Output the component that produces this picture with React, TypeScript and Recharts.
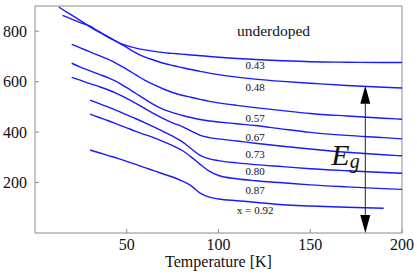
import React from 'react';
import { LineChart, Line, XAxis, YAxis, ReferenceArea, ReferenceLine, ReferenceDot } from 'recharts';

// temperature grid [K]
const temperatures = [13, 15, 20, 25, 30, 35, 40, 45, 50, 55, 60, 65, 70, 75, 80, 85, 90, 95, 100, 110, 120, 135, 150, 170, 190, 200];

// gap energy per doping (null = no data)
const gap043 = [null, 863, 848, 833, 820, 798, 778, 757, 743, 733, 726, 720, 715, 712, 709, 706, 703, 700, 697, 692, 688, 683, 679, 677, 676, 676];
const gap048 = [896, 886, 864, 841, 817, 796, 776, 757, 736, 714, 697, 685, 673, 664, 656, 648, 641, 634, 628, 618, 610, 601, 594, 585, 578, 575];
const gap057 = [null, null, 748, 733, 718, 703, 688, 670, 649, 627, 605, 587, 571, 557, 546, 538, 530, 522, 516, 506, 497, 485, 474, 464, 455, 451];
const gap067 = [null, null, 673, 657, 643, 629, 615, 598, 576, 553, 530, 508, 490, 477, 467, 458, 450, 444, 440, 433, 426, 412, 399, 387, 378, 373];
const gap073 = [null, null, 617, 605, 592, 580, 567, 552, 534, 514, 493, 472, 453, 437, 423, 405, 387, 378, 373, 365, 356, 344, 333, 320, 310, 306];
const gap080 = [null, null, null, null, 527, 513, 499, 484, 468, 453, 437, 420, 402, 384, 363, 335, 308, 294, 287, 278, 271, 263, 255, 247, 240, 237];
const gap087 = [null, null, null, null, 471, 458, 445, 431, 417, 403, 390, 377, 362, 346, 328, 302, 272, 245, 228, 215, 207, 199, 191, 183, 176, 173];
const gap092 = [null, null, null, null, 329, 318, 307, 296, 284, 272, 259, 246, 234, 222, 207, 188, 158, 142, 135, 128, 122, 112, 107, 102, 98, null];

const seriesKeys = ['x043', 'x048', 'x057', 'x067', 'x073', 'x080', 'x087', 'x092'];
const seriesValues = [gap043, gap048, gap057, gap067, gap073, gap080, gap087, gap092];
const curveLabels = ['0.43', '0.48', '0.57', '0.67', '0.73', '0.80', '0.87', 'x = 0.92'];

const xTicks = [50, 100, 150, 200];
const yTicks = [200, 400, 600, 800];

// annotations (data coords)
const labelT = 120;
const labelGap = [649, 564, 441, 365, 296, 230, 155, 75];
const arrowT = 180;
const arrowTop = 584;

const rows = temperatures.map((t, i) => {
  const r: any = { t };
  seriesKeys.forEach((k, j) => { r[k] = seriesValues[j][i]; });
  return r;
});

const SERIF = "'Liberation Serif', 'Times New Roman', Times, serif";
const BLUE = '#1a1aff';
const FRAME = '#8c8c8c';
const txt = (size: number, italic = false): React.CSSProperties => ({
  fontFamily: SERIF,
  fontSize: size,
  fontStyle: italic ? 'italic' : 'normal',
});

const XTick = (props: any) => {
  const { x, y, payload } = props;
  return (
    <g>
      <line x1={x} y1={y} x2={x} y2={y - 4} stroke={FRAME} />
      <text x={x} y={y + 17} textAnchor="middle" style={txt(16)} fill="#111">{payload.value}</text>
    </g>
  );
};

const YTick = (props: any) => {
  const { x, y, payload } = props;
  return (
    <g>
      <line x1={x} y1={y} x2={x + 4} y2={y} stroke={FRAME} />
      <text x={x - 8} y={y + 5.5} textAnchor="end" style={txt(16)} fill="#111">{payload.value}</text>
    </g>
  );
};

const ArrowShape = (p: any) => {
  const x = p.x1;
  const top = Math.min(p.y1, p.y2);
  const bot = Math.max(p.y1, p.y2);
  const head = 18;
  const hw = 5;
  return (
    <g>
      <line x1={x} y1={top + head} x2={x} y2={bot - head} stroke="#222" strokeWidth={1} />
      <polygon points={`${x},${top} ${x - hw},${top + head} ${x + hw},${top + head}`} fill="#000" />
      <polygon points={`${x},${bot} ${x - hw},${bot - head} ${x + hw},${bot - head}`} fill="#000" />
    </g>
  );
};

const textAt = (content: React.ReactNode, size: number) => (p: any) => (
  <text x={p.cx} y={p.cy} textAnchor="middle" style={txt(size)} fill="#111">{content}</text>
);

export default function App() {
  return (
    <div style={{ position: 'absolute', left: 0, top: 0 }}>
      <LineChart width={417} height={278} data={rows} margin={{ top: 6, right: 15, bottom: 0, left: 0 }}>
        <XAxis
          dataKey="t"
          type="number"
          domain={[0, 200]}
          ticks={xTicks}
          axisLine={false}
          tickLine={false}
          tickSize={0}
          tickMargin={0}
          height={45}
          tick={<XTick />}
          label={{
            content: (p: any) => (
              <text x={p.viewBox.x + p.viewBox.width / 2} y={p.viewBox.y + 33.5} textAnchor="middle" style={txt(16)} fill="#111">
                Temperature [K]
              </text>
            ),
          }}
        />
        <YAxis
          type="number"
          domain={[0, 900]}
          ticks={yTicks}
          allowDataOverflow
          axisLine={false}
          tickLine={false}
          tickSize={0}
          tickMargin={0}
          width={35}
          tick={<YTick />}
        />
        <ReferenceArea x1={0} x2={200} y1={0} y2={900} fill="none" stroke={FRAME} strokeWidth={1} />
        {seriesKeys.map((k) => (
          <Line key={k} dataKey={k} type="monotone" stroke={BLUE} strokeWidth={1.4} dot={false} activeDot={false} isAnimationActive={false} connectNulls={false} />
        ))}
        <ReferenceLine segment={[{ x: arrowT, y: 0 }, { x: arrowT, y: arrowTop }]} shape={ArrowShape} />
        {curveLabels.map((lab, i) => (
          <ReferenceDot key={lab} x={labelT} y={labelGap[i]} r={0} shape={textAt(lab, 11)} />
        ))}
        <ReferenceDot x={130} y={781} r={0} shape={textAt('underdoped', 15.5)} />
        <ReferenceDot
          x={161.5}
          y={270}
          r={0}
          shape={(p: any) => (
            <text x={p.cx} y={p.cy} fill="#111" style={txt(30, true)}>
              <tspan>E</tspan>
              <tspan dy={3} style={{ fontSize: 20 }}>g</tspan>
            </text>
          )}
        />
      </LineChart>
    </div>
  );
}
